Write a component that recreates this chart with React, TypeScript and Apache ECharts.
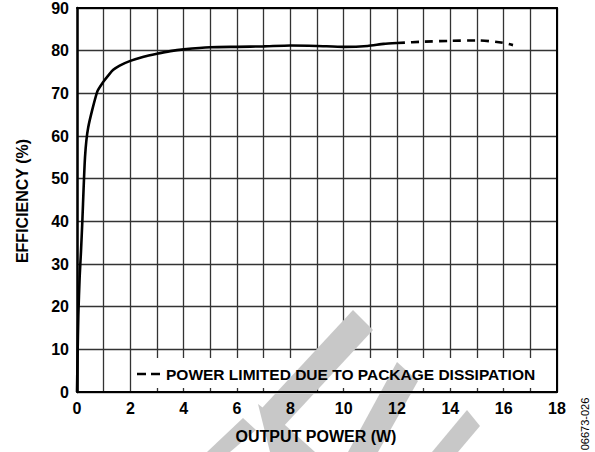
import React, { useEffect, useRef } from "react";
import * as echarts from "echarts";

const xTicks = [0, 2, 4, 6, 8, 10, 12, 14, 16, 18];
const yTicks = [0, 10, 20, 30, 40, 50, 60, 70, 80, 90];

const solidPower = [0, 0.02, 0.05, 0.1, 0.15, 0.2, 0.3, 0.42, 0.76, 1.0, 1.2, 1.36, 1.6, 2.0, 2.5, 3.0, 3.5, 4.0, 5.0, 6.0, 7.0, 8.0, 9.0, 10.0, 10.9, 11.5, 12.0];
const solidEff = [0, 8, 18, 27, 33, 40, 55, 62, 70.4, 72.8, 74.4, 75.5, 76.5, 77.6, 78.6, 79.3, 79.9, 80.3, 80.8, 80.9, 81.0, 81.2, 81.1, 80.9, 81.1, 81.6, 81.8];

const dashPower = [12.0, 13.0, 14.0, 15.0, 15.9, 16.35];
const dashEff = [81.8, 82.1, 82.3, 82.4, 81.9, 81.3];

const legendText = "POWER LIMITED DUE TO PACKAGE DISSIPATION";
const xName = "OUTPUT POWER (W)";
const yName = "EFFICIENCY (%)";
const codeText = "06673-026";

const FONT = "'Liberation Sans', Arial, Helvetica, sans-serif";

export default function App() {
  const ref = useRef<HTMLDivElement>(null);
  useEffect(() => {
    if (!ref.current) return;
    const chart = echarts.init(ref.current, undefined, { renderer: "svg" });
    const grid = { left: 77, top: 8, right: 38, bottom: 60 };
    const labelStyle = { color: "#000", fontFamily: FONT, fontWeight: "bold" as const, fontSize: 16 };
    const gray = "#c8c8c8";
    const option: any = {
      animation: false,
      backgroundColor: "#fff",
      grid: { ...grid, show: false },
      xAxis: [
        {
          type: "value", min: 0, max: 18, interval: 1, z: 0,
          axisLine: { show: false }, axisTick: { show: false }, axisLabel: { show: false },
          splitLine: { show: true, lineStyle: { color: "#333", width: 1.3 } },
        },
        {
          type: "value", min: 0, max: 18, interval: 2, z: 3, position: "bottom",
          axisLine: { show: true, onZero: false, lineStyle: { color: "#000", width: 2 } },
          axisTick: { show: false },
          axisLabel: { ...labelStyle, margin: 8, formatter: (v: number) => (xTicks.includes(v) ? String(v) : "") },
          splitLine: { show: false },
        },
        {
          type: "value", min: 0, max: 18, interval: 2, z: 3, position: "top",
          axisLine: { show: true, onZero: false, lineStyle: { color: "#000", width: 2 } },
          axisTick: { show: false }, axisLabel: { show: false }, splitLine: { show: false },
        },
      ],
      yAxis: [
        {
          type: "value", min: 0, max: 90, interval: 10, z: 0,
          axisLine: { show: false }, axisTick: { show: false }, axisLabel: { show: false },
          splitLine: { show: true, lineStyle: { color: "#333", width: 1.3 } },
        },
        {
          type: "value", min: 0, max: 90, interval: 10, z: 3, position: "left",
          axisLine: { show: true, onZero: false, lineStyle: { color: "#000", width: 2.5 } },
          axisTick: { show: false },
          axisLabel: { ...labelStyle, margin: 8, formatter: (v: number) => (yTicks.includes(v) ? String(v) : "") },
          splitLine: { show: false },
        },
        {
          type: "value", min: 0, max: 90, interval: 10, z: 3, position: "right",
          axisLine: { show: true, onZero: false, lineStyle: { color: "#000", width: 2 } },
          axisTick: { show: false }, axisLabel: { show: false }, splitLine: { show: false },
        },
      ],
      series: [
        {
          type: "line", z: 4, xAxisIndex: 0, yAxisIndex: 0, symbol: "none", smooth: 0.2,
          data: solidPower.map((p, i) => [p, solidEff[i]]),
          lineStyle: { color: "#000", width: 2.6 },
        },
        {
          type: "line", z: 4, xAxisIndex: 0, yAxisIndex: 0, symbol: "none", smooth: 0.3,
          data: dashPower.map((p, i) => [p, dashEff[i]]),
          lineStyle: { color: "#000", width: 2.6, type: [8, 6] },
        },
      ],
      graphic: {
        elements: [
          { type: "rect", z: 1, shape: { x: 133, y: 358, width: 423, height: 30 }, style: { fill: "#fff" } },
          { type: "polygon", z: 2, shape: { points: [[353, 310], [373, 330], [282, 428], [262, 408]] }, style: { fill: gray } },
          { type: "polygon", z: 2, shape: { points: [[258, 404], [285, 425], [315, 452], [270, 452]] }, style: { fill: gray } },
          { type: "polygon", z: 2, shape: { points: [[397, 362], [418, 381], [378, 452], [348, 452]] }, style: { fill: gray } },
          { type: "polygon", z: 2, shape: { points: [[467, 410], [480, 426], [458, 452], [432, 452]] }, style: { fill: gray } },
          { type: "polygon", z: 2, shape: { points: [[243, 418], [256, 430], [230, 452], [207, 452]] }, style: { fill: gray } },
          { type: "line", z: 5, shape: { x1: 137, y1: 374, x2: 146, y2: 374 }, style: { stroke: "#000", lineWidth: 2.5 } },
          { type: "line", z: 5, shape: { x1: 151, y1: 374, x2: 160, y2: 374 }, style: { stroke: "#000", lineWidth: 2.5 } },
          {
            type: "text", z: 5, x: 166, y: 374,
            style: { text: legendText, font: `bold 15.5px ${FONT}`, fill: "#000", textAlign: "left", textVerticalAlign: "middle" },
          },
          {
            type: "text", z: 5, x: 316, y: 436,
            style: { text: xName, font: `bold 16px ${FONT}`, fill: "#000", textAlign: "center", textVerticalAlign: "middle" },
          },
          {
            type: "text", z: 5, x: 22, y: 201, rotation: Math.PI / 2,
            style: { text: yName, font: `bold 16px ${FONT}`, fill: "#000", textAlign: "center", textVerticalAlign: "middle" },
          },
          {
            type: "text", z: 5, x: 585, y: 424, rotation: Math.PI / 2,
            style: { text: codeText, font: `11px ${FONT}`, fill: "#000", textAlign: "center", textVerticalAlign: "middle" },
          },
        ],
      },
    };
    chart.setOption(option);
    return () => chart.dispose();
  }, []);
  return <div ref={ref} style={{ width: 595, height: 452, position: "absolute", left: 0, top: 0 }} />;
}
